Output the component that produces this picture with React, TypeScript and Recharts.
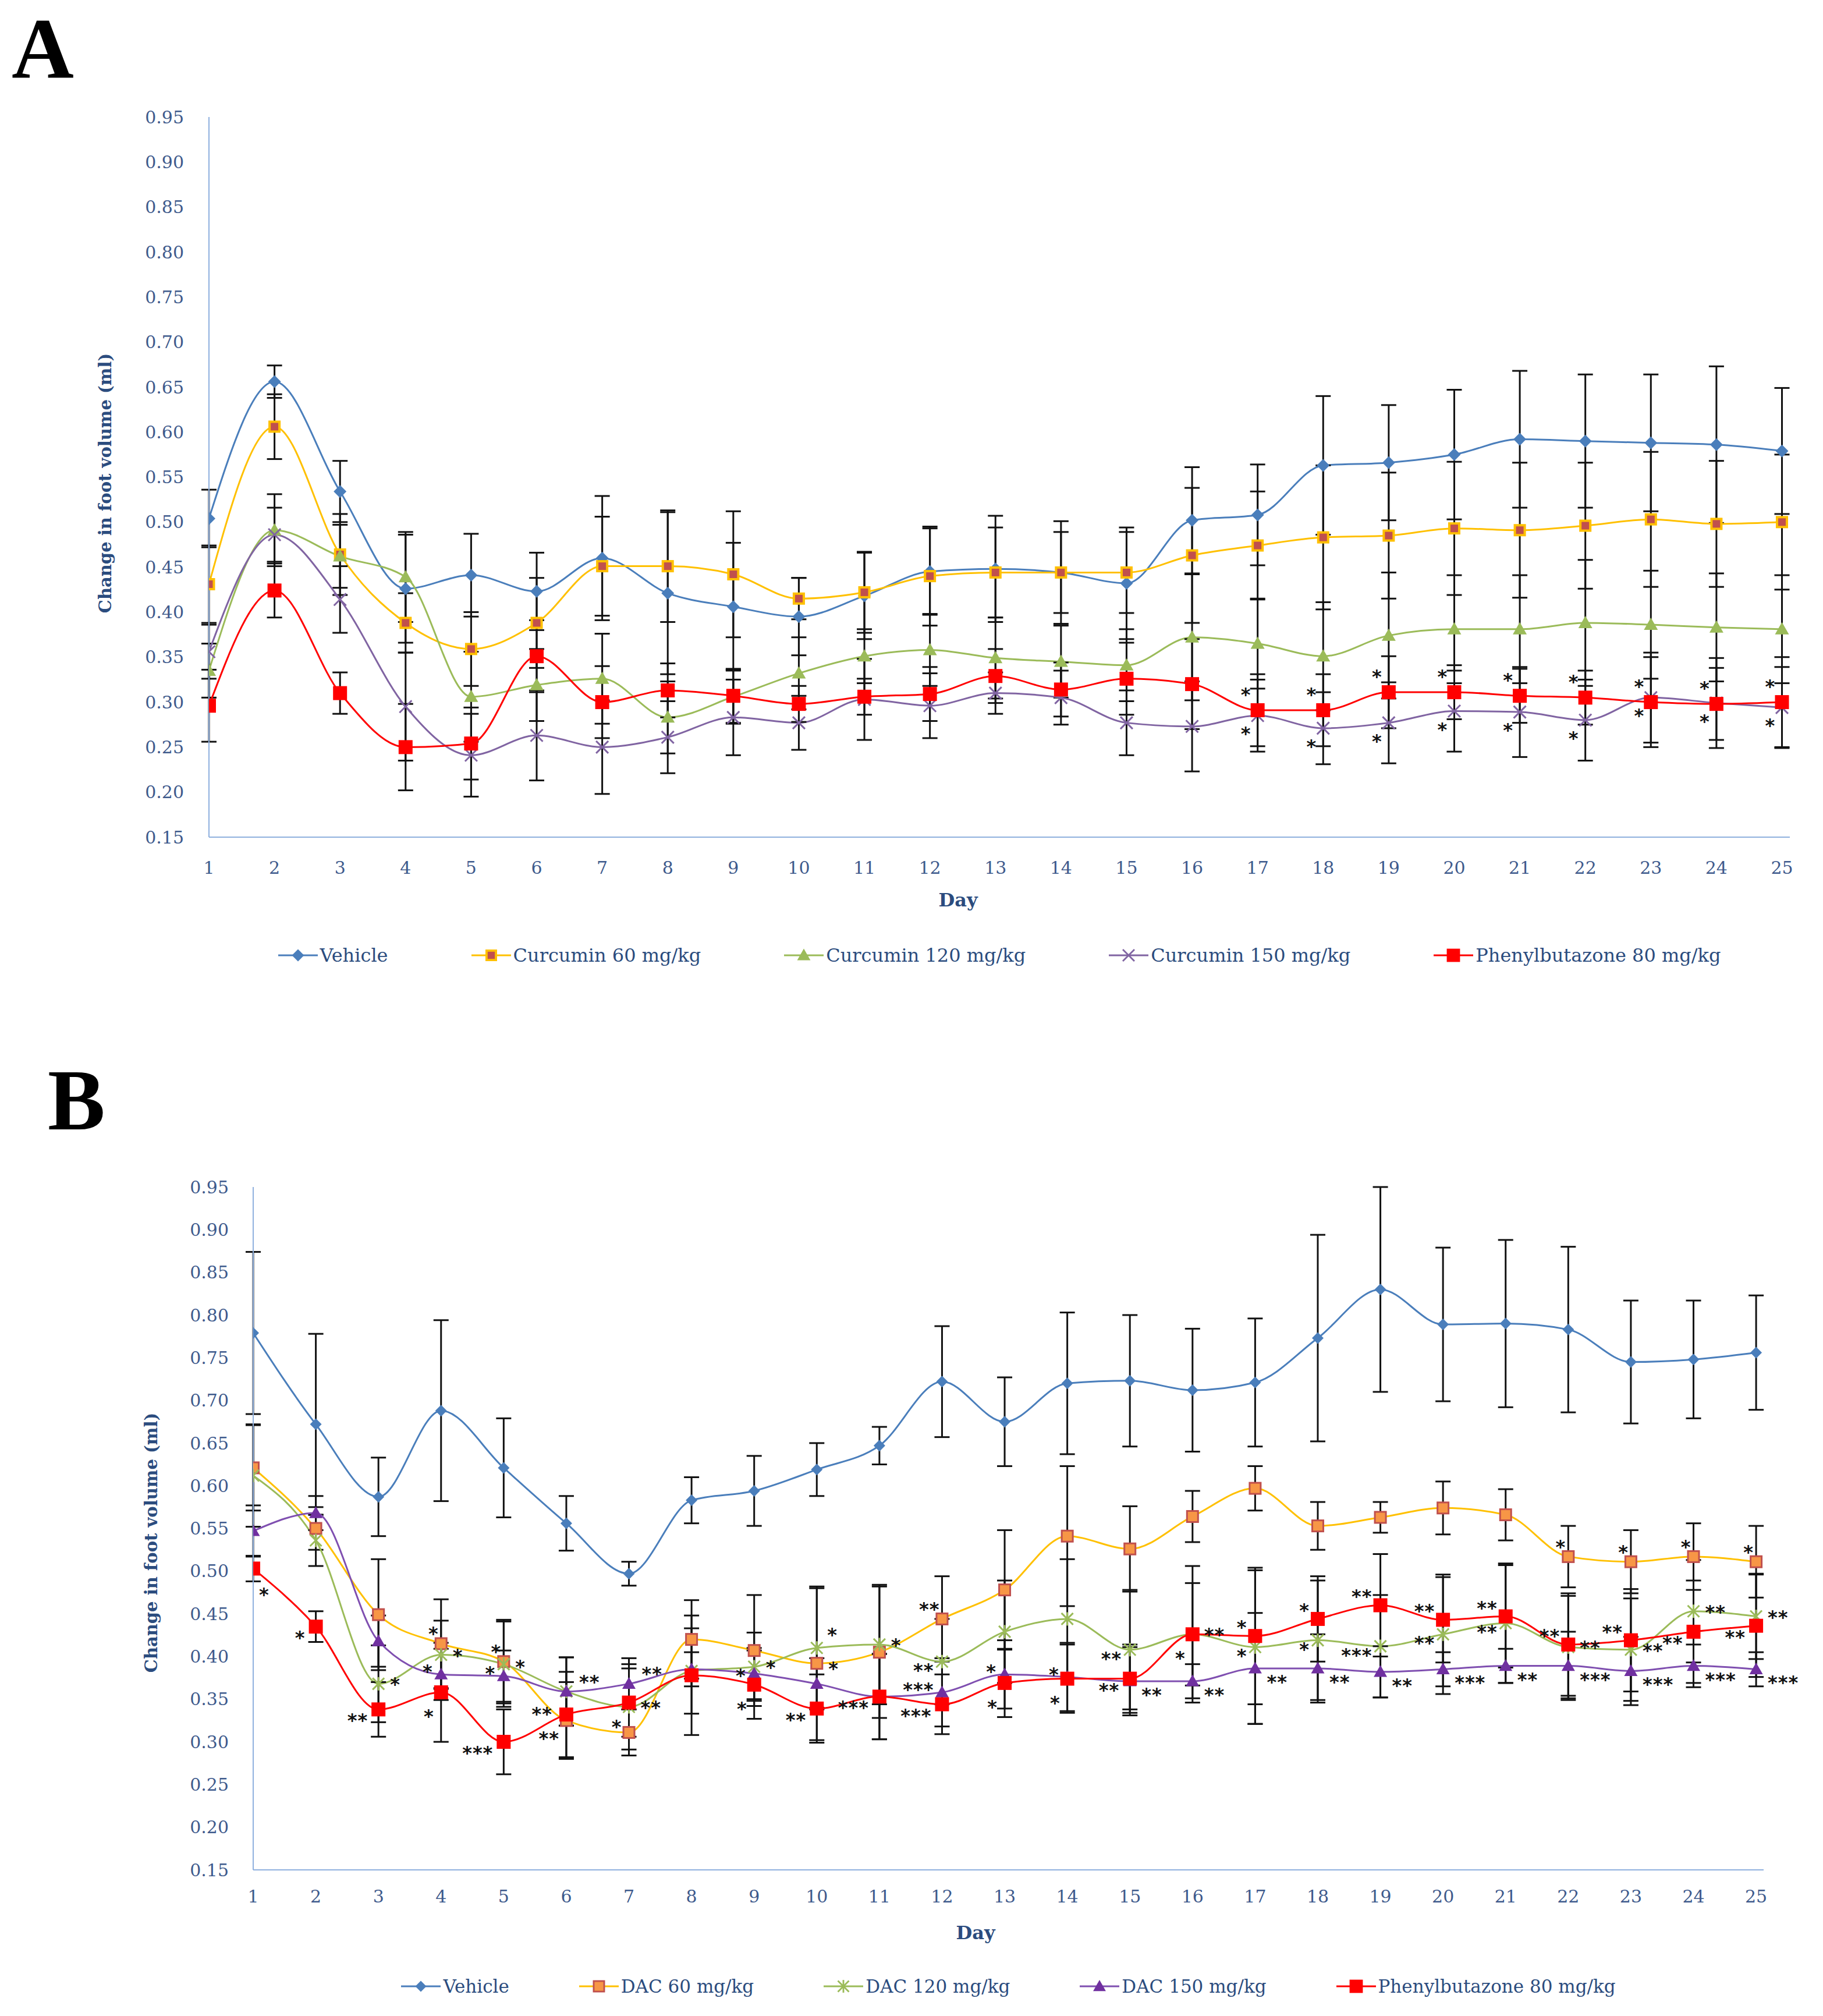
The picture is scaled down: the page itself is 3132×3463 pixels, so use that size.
import React from "react";
import { LineChart, Line, XAxis, YAxis, ErrorBar, LabelList } from "recharts";

const days = [1, 2, 3, 4, 5, 6, 7, 8, 9, 10, 11, 12, 13, 14, 15, 16, 17, 18, 19, 20, 21, 22, 23, 24, 25];
const yTicks = [0.15, 0.2, 0.25, 0.3, 0.35, 0.4, 0.45, 0.5, 0.55, 0.6, 0.65, 0.7, 0.75, 0.8, 0.85, 0.9, 0.95];

// ---------- Panel A (curcumin) ----------
const namesA = ["Vehicle", "Curcumin 60 mg/kg", "Curcumin 120 mg/kg", "Curcumin 150 mg/kg", "Phenylbutazone 80 mg/kg"];
const vehicleA = [0.504, 0.656, 0.534, 0.426, 0.441, 0.423, 0.46, 0.421, 0.406, 0.395, 0.418, 0.445, 0.448, 0.444, 0.432, 0.502, 0.508, 0.563, 0.566, 0.575, 0.592, 0.59, 0.588, 0.586, 0.579];
const cur60A = [0.431, 0.606, 0.464, 0.388, 0.359, 0.388, 0.451, 0.451, 0.442, 0.415, 0.422, 0.44, 0.444, 0.444, 0.444, 0.463, 0.474, 0.483, 0.485, 0.493, 0.491, 0.496, 0.503, 0.498, 0.5];
const cur120A = [0.335, 0.491, 0.462, 0.439, 0.306, 0.319, 0.326, 0.283, 0.306, 0.332, 0.351, 0.358, 0.349, 0.345, 0.341, 0.372, 0.365, 0.351, 0.374, 0.381, 0.381, 0.388, 0.386, 0.383, 0.381];
const cur150A = [0.356, 0.486, 0.414, 0.295, 0.241, 0.263, 0.25, 0.261, 0.283, 0.277, 0.303, 0.296, 0.31, 0.305, 0.277, 0.273, 0.285, 0.271, 0.277, 0.29, 0.289, 0.28, 0.305, 0.299, 0.294];
const pbzA = [0.296, 0.424, 0.31, 0.25, 0.254, 0.351, 0.3, 0.313, 0.307, 0.298, 0.306, 0.309, 0.329, 0.314, 0.326, 0.32, 0.291, 0.291, 0.311, 0.311, 0.307, 0.305, 0.3, 0.298, 0.3];

const vehicleErrA = [0.032, 0.018, 0.034, 0.06, 0.046, 0.043, 0.069, 0.09, 0.071, 0.043, 0.048, 0.048, 0.059, 0.057, 0.062, 0.059, 0.056, 0.077, 0.064, 0.072, 0.076, 0.074, 0.076, 0.087, 0.07];
const cur60ErrA = [0.043, 0.036, 0.045, 0.033, 0.041, 0.05, 0.055, 0.062, 0.07, 0.023, 0.045, 0.055, 0.05, 0.045, 0.045, 0.075, 0.06, 0.08, 0.07, 0.074, 0.075, 0.07, 0.075, 0.07, 0.075];
const cur120ErrA = [0.03, 0.04, 0.035, 0.05, 0.05, 0.04, 0.05, 0.04, 0.03, 0.04, 0.03, 0.04, 0.045, 0.04, 0.04, 0.07, 0.05, 0.06, 0.07, 0.06, 0.06, 0.07, 0.06, 0.06, 0.06];
const cur150ErrA = [0.03, 0.03, 0.037, 0.06, 0.046, 0.05, 0.052, 0.04, 0.042, 0.03, 0.045, 0.036, 0.023, 0.03, 0.036, 0.05, 0.04, 0.04, 0.045, 0.045, 0.05, 0.045, 0.05, 0.05, 0.045];
const pbzErrA = [0.04, 0.03, 0.023, 0.048, 0.04, 0.04, 0.04, 0.03, 0.03, 0.02, 0.02, 0.03, 0.03, 0.03, 0.04, 0.05, 0.04, 0.04, 0.04, 0.03, 0.03, 0.03, 0.05, 0.04, 0.05];

type Stars = [number, string][];
const starsA_pbz: Stars = [[17, "*"], [18, "*"], [19, "*"], [20, "*"], [21, "*"], [22, "*"], [23, "*"], [24, "*"], [25, "*"]];
const starsA_cur150: Stars = [[17, "*"], [18, "*"], [19, "*"], [20, "*"], [21, "*"], [22, "*"], [23, "*"], [24, "*"], [25, "*"]];

// ---------- Panel B (DAC) ----------
const namesB = ["Vehicle", "DAC 60 mg/kg", "DAC 120 mg/kg", "DAC 150 mg/kg", "Phenylbutazone 80 mg/kg"];
const vehicleB = [0.779, 0.672, 0.587, 0.688, 0.621, 0.556, 0.497, 0.583, 0.594, 0.619, 0.647, 0.722, 0.675, 0.72, 0.723, 0.712, 0.721, 0.773, 0.83, 0.789, 0.79, 0.783, 0.745, 0.748, 0.756];
const dac60B = [0.621, 0.55, 0.449, 0.415, 0.394, 0.325, 0.311, 0.42, 0.407, 0.392, 0.405, 0.444, 0.478, 0.541, 0.526, 0.564, 0.597, 0.553, 0.563, 0.574, 0.566, 0.517, 0.511, 0.517, 0.511];
const dac120B = [0.612, 0.536, 0.368, 0.402, 0.391, 0.359, 0.341, 0.383, 0.388, 0.41, 0.414, 0.394, 0.429, 0.444, 0.408, 0.426, 0.411, 0.419, 0.412, 0.426, 0.439, 0.411, 0.408, 0.453, 0.447];
const dac150B = [0.547, 0.568, 0.418, 0.379, 0.377, 0.359, 0.368, 0.385, 0.38, 0.368, 0.353, 0.358, 0.379, 0.376, 0.371, 0.371, 0.386, 0.386, 0.382, 0.385, 0.389, 0.389, 0.383, 0.389, 0.385];
const pbzB = [0.503, 0.435, 0.338, 0.358, 0.3, 0.332, 0.346, 0.378, 0.367, 0.339, 0.353, 0.344, 0.369, 0.374, 0.374, 0.426, 0.424, 0.444, 0.46, 0.443, 0.447, 0.414, 0.419, 0.429, 0.436];

const vehicleErrB = [0.095, 0.106, 0.046, 0.106, 0.058, 0.032, 0.014, 0.027, 0.041, 0.031, 0.022, 0.065, 0.052, 0.083, 0.077, 0.072, 0.075, 0.121, 0.12, 0.09, 0.098, 0.097, 0.072, 0.069, 0.067];
const dac60ErrB = [0.05, 0.025, 0.065, 0.052, 0.049, 0.045, 0.027, 0.046, 0.065, 0.09, 0.077, 0.05, 0.07, 0.082, 0.05, 0.03, 0.026, 0.028, 0.018, 0.031, 0.03, 0.036, 0.037, 0.039, 0.042];
const dac120ErrB = [0.06, 0.03, 0.045, 0.04, 0.05, 0.04, 0.05, 0.05, 0.04, 0.07, 0.07, 0.05, 0.06, 0.07, 0.07, 0.06, 0.09, 0.07, 0.06, 0.07, 0.07, 0.06, 0.06, 0.06, 0.05];
const dac150ErrB = [0.03, 0.02, 0.03, 0.03, 0.03, 0.04, 0.03, 0.02, 0.03, 0.03, 0.05, 0.04, 0.04, 0.04, 0.04, 0.02, 0.065, 0.04, 0.03, 0.02, 0.02, 0.04, 0.04, 0.025, 0.02];
const pbzErrB = [0.015, 0.018, 0.032, 0.058, 0.038, 0.05, 0.04, 0.07, 0.04, 0.04, 0.05, 0.035, 0.04, 0.04, 0.04, 0.08, 0.08, 0.05, 0.06, 0.05, 0.06, 0.06, 0.06, 0.06, 0.06];

const starsB_pbzLeft: Stars = [[2, "*"], [3, "**"], [5, "***"], [10, "**"], [11, "***"], [12, "***"], [15, "**"], [24, "**"], [25, "**"]];
const starsB_pbzDownLeft: Stars = [[4, "*"], [6, "**"], [7, "*"], [9, "*"], [13, "*"], [14, "*"], [16, "*"]];
const starsB_pbzUpLeft: Stars = [[17, "*"], [18, "*"], [19, "**"], [20, "**"], [21, "**"], [22, "**"], [23, "**"]];
const starsB_pbzDownRight: Stars = [[1, "*"]];
const starsB_d150Right: Stars = [[15, "**"], [16, "**"], [17, "**"], [18, "**"], [19, "**"], [20, "***"], [21, "**"], [22, "***"], [23, "***"], [24, "***"], [25, "***"]];
const starsB_d150UpRight: Stars = [[6, "**"], [7, "**"]];
const starsB_d150Left: Stars = [[4, "*"], [5, "*"], [12, "***"], [13, "*"], [14, "*"]];
const starsB_d120Right: Stars = [[3, "*"], [4, "*"], [7, "**"], [9, "*"], [11, "*"], [16, "**"], [22, "**"], [23, "**"], [24, "**"], [25, "**"]];
const starsB_d120UpRight: Stars = [[10, "*"]];
const starsB_d120Left: Stars = [[9, "*"], [12, "**"], [15, "**"], [17, "*"], [18, "*"], [19, "***"], [20, "**"], [21, "**"]];
const starsB_d60UpLeft: Stars = [[4, "*"], [5, "*"], [12, "**"], [22, "*"], [23, "*"], [24, "*"], [25, "*"]];
const starsB_d60Right: Stars = [[5, "*"], [10, "*"]];
const starsB_d60Left: Stars = [[6, "**"]];

// ---------- styling ----------
const SERIF = '"DejaVu Serif", serif';
const AXIS_TEXT = "#3E5A8C";
const TITLE_TEXT = "#2B4C7E";
const AXIS_LINE = "#8FB0DE";

type MarkerFn = (cx: number, cy: number, s: number, key?: string) => React.ReactElement;

const diamond = (fill: string, size: number): MarkerFn => (cx, cy, s, key) => {
  const r = (size / 2) * s;
  return <polygon key={key} points={`${cx},${cy - r} ${cx + r},${cy} ${cx},${cy + r} ${cx - r},${cy}`} fill={fill} />;
};
const square = (fill: string, size: number, stroke = "none", sw = 0): MarkerFn => (cx, cy, s, key) => {
  const h = (size / 2) * s;
  return <rect key={key} x={cx - h} y={cy - h} width={2 * h} height={2 * h} fill={fill} stroke={stroke} strokeWidth={sw * s} />;
};
const triangle = (fill: string, size: number): MarkerFn => (cx, cy, s, key) => {
  const h = (size / 2) * s;
  return <polygon key={key} points={`${cx},${cy - h} ${cx + h},${cy + h * 0.75} ${cx - h},${cy + h * 0.75}`} fill={fill} />;
};
const cross = (color: string, size: number, bar = false): MarkerFn => (cx, cy, s, key) => {
  const h = (size / 2) * s;
  return (
    <g key={key} stroke={color} strokeWidth={3 * s}>
      <line x1={cx - h} y1={cy - h} x2={cx + h} y2={cy + h} />
      <line x1={cx - h} y1={cy + h} x2={cx + h} y2={cy - h} />
      {bar && <line x1={cx} y1={cy - h * 1.15} x2={cx} y2={cy + h * 1.15} />}
    </g>
  );
};

type Series = { key: string; name: string; color: string; marker: MarkerFn; values: number[]; errors: number[] };
type StarGroup = { series: string; field: string; list: Stars; dx: number; dy: number; anchor: "start" | "middle" | "end" };

const seriesA: Series[] = [
  { key: "veh", name: namesA[0], color: "#4A7EBB", marker: diamond("#4A7EBB", 22), values: vehicleA, errors: vehicleErrA },
  { key: "c60", name: namesA[1], color: "#FFC000", marker: square("#C0504D", 17, "#FFC000", 4), values: cur60A, errors: cur60ErrA },
  { key: "c120", name: namesA[2], color: "#9BBB59", marker: triangle("#9BBB59", 24), values: cur120A, errors: cur120ErrA },
  { key: "c150", name: namesA[3], color: "#8064A2", marker: cross("#8064A2", 21), values: cur150A, errors: cur150ErrA },
  { key: "pbz", name: namesA[4], color: "#FF0000", marker: square("#FF0000", 24), values: pbzA, errors: pbzErrA },
];

const starGroupsA: StarGroup[] = [
  { series: "pbz", field: "sPbz", list: starsA_pbz, dx: -20, dy: -34, anchor: "middle" },
  { series: "c150", field: "sC150", list: starsA_cur150, dx: -20, dy: 24, anchor: "middle" },
];

const seriesB: Series[] = [
  { key: "veh", name: namesB[0], color: "#4A7EBB", marker: diamond("#4A7EBB", 20), values: vehicleB, errors: vehicleErrB },
  { key: "d60", name: namesB[1], color: "#FFC000", marker: square("#F79646", 19, "#C0504D", 3), values: dac60B, errors: dac60ErrB },
  { key: "d120", name: namesB[2], color: "#9BBB59", marker: cross("#9BBB59", 20, true), values: dac120B, errors: dac120ErrB },
  { key: "d150", name: namesB[3], color: "#7F4FB0", marker: triangle("#7030A0", 23), values: dac150B, errors: dac150ErrB },
  { key: "pbz", name: namesB[4], color: "#FF0000", marker: square("#FF0000", 24), values: pbzB, errors: pbzErrB },
];

const starGroupsB: StarGroup[] = [
  { series: "pbz", field: "sPbzL", list: starsB_pbzLeft, dx: -18, dy: 12, anchor: "end" },
  { series: "pbz", field: "sPbzDL", list: starsB_pbzDownLeft, dx: -12, dy: 34, anchor: "end" },
  { series: "pbz", field: "sPbzUL", list: starsB_pbzUpLeft, dx: -14, dy: -22, anchor: "end" },
  { series: "pbz", field: "sPbzDR", list: starsB_pbzDownRight, dx: 10, dy: 38, anchor: "start" },
  { series: "d150", field: "sD150R", list: starsB_d150Right, dx: 20, dy: 16, anchor: "start" },
  { series: "d150", field: "sD150UR", list: starsB_d150UpRight, dx: 22, dy: -24, anchor: "start" },
  { series: "d150", field: "sD150L", list: starsB_d150Left, dx: -14, dy: -12, anchor: "end" },
  { series: "d120", field: "sD120R", list: starsB_d120Right, dx: 20, dy: -6, anchor: "start" },
  { series: "d120", field: "sD120UR", list: starsB_d120UpRight, dx: 18, dy: -30, anchor: "start" },
  { series: "d120", field: "sD120L", list: starsB_d120Left, dx: -14, dy: 8, anchor: "end" },
  { series: "d60", field: "sD60UL", list: starsB_d60UpLeft, dx: -4, dy: -24, anchor: "end" },
  { series: "d60", field: "sD60R", list: starsB_d60Right, dx: 20, dy: 2, anchor: "start" },
  { series: "d60", field: "sD60L", list: starsB_d60Left, dx: -24, dy: -18, anchor: "end" },
];

const starCol = (list: Stars) => days.map((d) => list.find((s) => s[0] === d)?.[1] ?? "");

function buildRows(series: Series[], groups: StarGroup[]) {
  const cols = groups.map((g) => starCol(g.list));
  return days.map((d, i) => {
    const row: Record<string, number | string> = { day: d };
    series.forEach((s) => {
      row[s.key] = s.values[i];
      row[s.key + "Err"] = s.errors[i];
    });
    groups.forEach((g, gi) => {
      row[g.field] = cols[gi][i];
    });
    return row;
  });
}

const starText = (g: StarGroup, prefix: string) => (props: any) => {
  const value = props.value;
  if (!value) return null;
  const x = props.x ?? props.viewBox?.x;
  const y = props.y ?? props.viewBox?.y;
  if (x == null || y == null) return null;
  return (
    <text
      key={`${prefix}-${g.field}-${props.index}`}
      x={x + g.dx}
      y={y + g.dy + 18}
      textAnchor={g.anchor}
      fontSize={32}
      fontWeight="bold"
      fontFamily='"DejaVu Sans", sans-serif'
      fill="#111"
      letterSpacing={1}
    >
      {value}
    </text>
  );
};

type PanelProps = {
  id: string;
  top: number;
  height: number;
  plotTop: number;
  plotBottom: number;
  plotLeft: number;
  plotRight: number;
  tickGapY: number;
  tickGapX: number;
  series: Series[];
  groups: StarGroup[];
};

function Panel({ id, top, height, plotTop, plotBottom, plotLeft, plotRight, tickGapY, tickGapX, series, groups }: PanelProps) {
  const rows = buildRows(series, groups);
  const xAxisHeight = 150;
  return (
    <div style={{ position: "absolute", left: 0, top, width: 3132, height }}>
      <LineChart
        width={3132}
        height={height}
        data={rows}
        margin={{ top: plotTop - top, right: 3132 - plotRight, left: 0, bottom: height - (plotBottom - top) - xAxisHeight }}
      >
        <XAxis
          dataKey="day"
          type="number"
          domain={[1, 25.12]}
          ticks={days}
          interval={0}
          allowDataOverflow
          height={xAxisHeight}
          tickLine={false}
          tickSize={0}
          tickMargin={tickGapX}
          axisLine={{ stroke: AXIS_LINE, strokeWidth: 2 }}
          tick={{ fill: AXIS_TEXT, fontSize: 30, fontFamily: SERIF }}
        />
        <YAxis
          type="number"
          domain={[0.15, 0.95]}
          ticks={yTicks}
          interval={0}
          allowDataOverflow
          width={plotLeft}
          tickLine={false}
          tickSize={0}
          tickMargin={tickGapY}
          tickFormatter={(v: number) => v.toFixed(2)}
          axisLine={{ stroke: AXIS_LINE, strokeWidth: 2 }}
          tick={{ fill: AXIS_TEXT, fontSize: 30, fontFamily: SERIF }}
        />
        {series.map((s) => (
          <Line
            key={s.key}
            dataKey={s.key}
            name={s.name}
            type="monotone"
            stroke={s.color}
            strokeWidth={3}
            dot={(p: any) => s.marker(p.cx, p.cy, 1, `${id}-${s.key}-${p.index}`)}
            activeDot={false}
            isAnimationActive={false}
          >
            <ErrorBar dataKey={s.key + "Err"} direction="y" width={13} strokeWidth={3} stroke="#111" isAnimationActive={false} />
            {groups
              .filter((g) => g.series === s.key)
              .map((g) => (
                <LabelList key={g.field} dataKey={g.field} content={starText(g, id)} />
              ))}
          </Line>
        ))}
      </LineChart>
    </div>
  );
}

function LegendRow({ series, left, width, centerY, gap, fontSize }: { series: Series[]; left: number; width: number; centerY: number; gap: number; fontSize: number }) {
  return (
    <div
      style={{
        position: "absolute",
        left,
        width,
        top: centerY - 25,
        height: 50,
        display: "flex",
        justifyContent: "center",
        alignItems: "center",
        columnGap: gap,
        fontFamily: SERIF,
        fontSize,
        color: TITLE_TEXT,
        whiteSpace: "nowrap",
      }}
    >
      {series.map((s) => (
        <div key={s.key} style={{ display: "flex", alignItems: "center" }}>
          <svg width={68} height={32}>
            <line x1={0} y1={16} x2={68} y2={16} stroke={s.color} strokeWidth={3} />
            {s.marker(34, 16, 0.95)}
          </svg>
          <span style={{ marginLeft: 4 }}>{s.name}</span>
        </div>
      ))}
    </div>
  );
}

export default function App() {
  return (
    <div style={{ position: "absolute", left: 0, top: 0, width: 3132, height: 3463, background: "#fff", overflow: "hidden" }}>
      <Panel
        id="A"
        top={0}
        height={1760}
        plotTop={201}
        plotBottom={1438}
        plotLeft={359}
        plotRight={3075}
        tickGapY={43}
        tickGapX={42}
        series={seriesA}
        groups={starGroupsA}
      />
      <Panel
        id="B"
        top={1780}
        height={1683}
        plotTop={2039}
        plotBottom={3212}
        plotLeft={435}
        plotRight={3030}
        tickGapY={42}
        tickGapX={35}
        series={seriesB}
        groups={starGroupsB}
      />
      <LegendRow series={seriesA} left={359} width={2716} centerY={1641} gap={143} fontSize={32} />
      <LegendRow series={seriesB} left={435} width={2595} centerY={3412} gap={120} fontSize={31} />
      <svg width={3132} height={3463} style={{ position: "absolute", left: 0, top: 0, pointerEvents: "none" }}>
        <text x={20} y={133} fontSize={148} fontWeight="bold" fontFamily='"Liberation Serif", serif' fill="#000">A</text>
        <text x={82} y={1940} fontSize={148} fontWeight="bold" fontFamily='"Liberation Serif", serif' fill="#000">B</text>
        <text x={181} y={830} transform="rotate(-90 181 830)" textAnchor="middle" dominantBaseline="central" fontSize={29} fontWeight="bold" fontFamily={SERIF} fill={TITLE_TEXT}>
          Change in foot volume (ml)
        </text>
        <text x={260} y={2650} transform="rotate(-90 260 2650)" textAnchor="middle" dominantBaseline="central" fontSize={29} fontWeight="bold" fontFamily={SERIF} fill={TITLE_TEXT}>
          Change in foot volume (ml)
        </text>
        <text x={1646} y={1557} textAnchor="middle" fontSize={32} fontWeight="bold" fontFamily={SERIF} fill={TITLE_TEXT}>Day</text>
        <text x={1676} y={3331} textAnchor="middle" fontSize={32} fontWeight="bold" fontFamily={SERIF} fill={TITLE_TEXT}>Day</text>
      </svg>
    </div>
  );
}
